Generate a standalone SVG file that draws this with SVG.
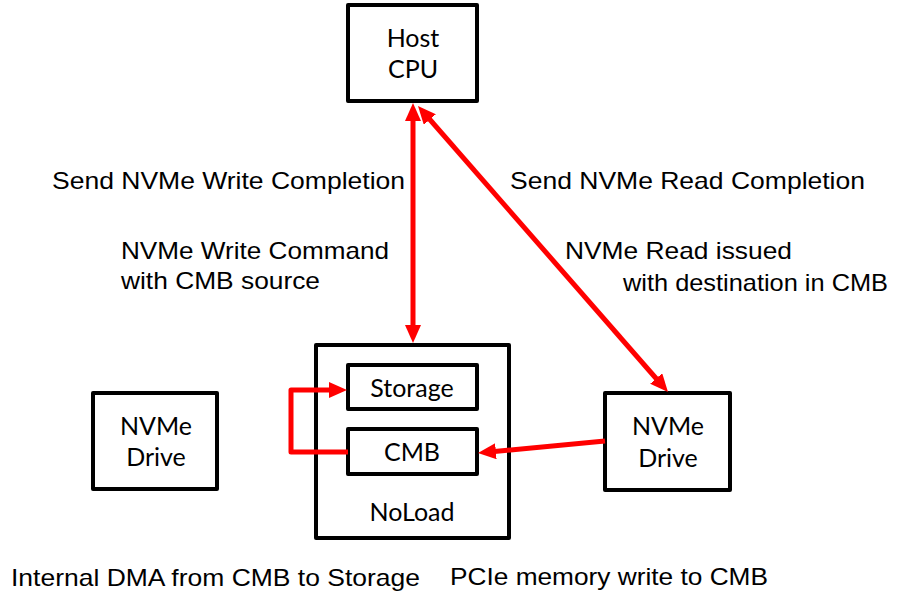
<svg xmlns="http://www.w3.org/2000/svg" width="904" height="592" viewBox="0 0 904 592">
<style>
.box{fill:#fff;stroke:#000;stroke-width:4;stroke-linejoin:round}
.bl{font-family:Lato,"Open Sans",sans-serif;font-size:25px;fill:#000;text-anchor:middle}
.lbl{font-family:"Liberation Sans",Arial,sans-serif;font-size:24px;fill:#000}
.con{fill:none;stroke:#ff0000;stroke-width:5}
</style>
<defs>
<marker id="ah" markerUnits="userSpaceOnUse" markerWidth="18" markerHeight="16" refX="4" refY="8" orient="auto-start-reverse">
<path d="M0,0 L18,8 L0,16 z" fill="#ff0000"/>
</marker>
</defs>
<g id="host-cpu">
<rect class="box" x="348" y="5" width="129" height="96"/>
<text class="bl" x="413" y="47">Host</text>
<text class="bl" x="413" y="78">CPU</text>
</g>
<g id="noload">
<rect class="box" x="316" y="345" width="193" height="193"/>
<text class="bl" x="412" y="521">NoLoad</text>
</g>
<g id="storage">
<rect class="box" x="348" y="365" width="129" height="44"/>
<text class="bl" x="412" y="397">Storage</text>
</g>
<g id="cmb">
<rect class="box" x="348" y="429" width="129" height="45"/>
<text class="bl" x="412" y="461">CMB</text>
</g>
<g id="nvme-left">
<rect class="box" x="93" y="393" width="124" height="96"/>
<text class="bl" x="156" y="435">NVMe</text>
<text class="bl" x="156" y="466">Drive</text>
</g>
<g id="nvme-right">
<rect class="box" x="605" y="393" width="125" height="97"/>
<text class="bl" x="668" y="435">NVMe</text>
<text class="bl" x="668" y="467">Drive</text>
</g>
<g id="connectors">
<line class="con" x1="413" y1="117" x2="413" y2="329" marker-start="url(#ah)" marker-end="url(#ah)"/>
<line class="con" x1="427.2" y1="116.5" x2="658.8" y2="381.5" marker-start="url(#ah)" marker-end="url(#ah)"/>
<line class="con" x1="605" y1="441" x2="491.9" y2="451.7" marker-end="url(#ah)"/>
<polyline class="con" points="348,452 291,452 291,390 333,390" stroke-linejoin="round" marker-end="url(#ah)"/>
</g>
<g id="labels">
<text class="lbl" x="52" y="189" textLength="353" lengthAdjust="spacingAndGlyphs">Send NVMe Write Completion</text>
<text class="lbl" x="121" y="259" textLength="268" lengthAdjust="spacingAndGlyphs">NVMe Write Command</text>
<text class="lbl" x="121" y="289" textLength="199" lengthAdjust="spacingAndGlyphs">with CMB source</text>
<text class="lbl" x="510" y="189" textLength="355" lengthAdjust="spacingAndGlyphs">Send NVMe Read Completion</text>
<text class="lbl" x="565" y="259" textLength="227" lengthAdjust="spacingAndGlyphs">NVMe Read issued</text>
<text class="lbl" x="623" y="291" textLength="265" lengthAdjust="spacingAndGlyphs">with destination in CMB</text>
<text class="lbl" x="11" y="586" textLength="409" lengthAdjust="spacingAndGlyphs">Internal DMA from CMB to Storage</text>
<text class="lbl" x="450" y="585" textLength="318" lengthAdjust="spacingAndGlyphs">PCIe memory write to CMB</text>
</g>
</svg>
